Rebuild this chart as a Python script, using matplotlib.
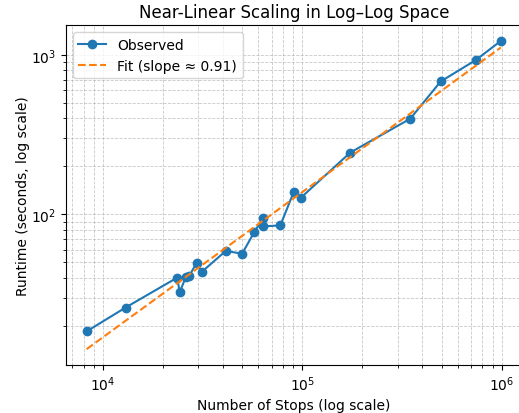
import numpy as np
import matplotlib

matplotlib.use("Agg")
import matplotlib.pyplot as plt

n_stops = [8260, 12960, 23550, 24200, 26000, 27000, 29450, 31200, 41200,
           49800, 57200, 63300, 63600, 77500, 90500, 98000, 173600, 347500,
           493700, 740000, 990000]
runtime_s = [18.5, 26.1, 40.2, 32.5, 40.6, 41.0, 49.9, 43.6, 59.0,
             56.8, 77.2, 94.4, 84.1, 85.4, 139.0, 127.0, 244.0, 398.0,
             681.0, 927.0, 1223.0]


def main():
    x = np.array(n_stops, dtype=float)
    y = np.array(runtime_s, dtype=float)

    # Linear fit in log-log space
    slope, intercept = np.polyfit(np.log10(x), np.log10(y), 1)
    y_fit = 10 ** (intercept + slope * np.log10(x))

    fig = plt.figure(figsize=(5.19, 4.14), dpi=100)
    ax = fig.add_axes([0.127, 0.117, 0.878, 0.819])

    ax.plot(x, y, marker="o", label="Observed")
    ax.plot(x, y_fit, linestyle="--", label=f"Fit (slope \u2248 {slope:.2f})")

    ax.set_xscale("log")
    ax.set_yscale("log")
    ax.set_xlabel("Number of Stops (log scale)")
    ax.set_ylabel("Runtime (seconds, log scale)", labelpad=1)
    ax.set_title("Near-Linear Scaling in Log\u2013Log Space")
    ax.grid(True, which="both", linestyle="--", linewidth=0.6, alpha=0.7)
    ax.legend()

    fig.savefig("out.png", dpi=100)


if __name__ == "__main__":
    main()
